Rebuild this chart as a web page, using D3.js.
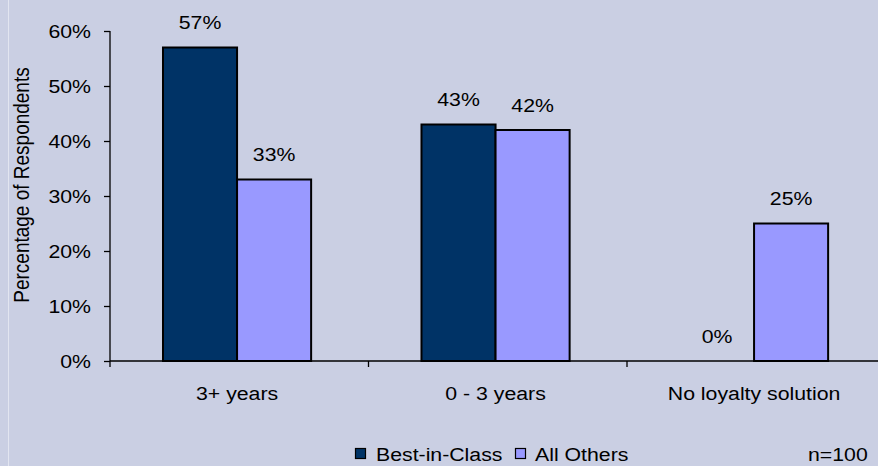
<!DOCTYPE html>
<html>
<head>
<meta charset="utf-8">
<script src="https://cdn.jsdelivr.net/npm/d3@7"></script>
<style>
  html, body { margin: 0; padding: 0; background: #CACFE3; }
  svg { display: block; }
  text { font-family: "Liberation Sans", Arial, sans-serif; fill: #000; }
</style>
</head>
<body>
<svg id="chart" width="878" height="466"></svg>
<script>
// Loyalty solution tenure, by respondent group
const categories = ["3+ years", "0 - 3 years", "No loyalty solution"];
const seriesNames = ["Best-in-Class", "All Others"];
const bestInClass = [57, 43, 0];
const allOthers = [33, 42, 25];
const yTicks = [0, 10, 20, 30, 40, 50, 60];
const yTitle = "Percentage of Respondents";
const sampleNote = "n=100";

const colors = { "Best-in-Class": "#003366", "All Others": "#9999FF" };
const FONT = 19;
const SX = 1.12; // horizontal text stretch

const svg = d3.select("#chart");
const W = 878, H = 466;

// background and thin light rule at the left edge
svg.append("rect").attr("width", W).attr("height", H).attr("fill", "#CACFE3");
svg.append("line").attr("x1", 8.5).attr("x2", 8.5).attr("y1", 0).attr("y2", H)
  .attr("stroke", "#E2E5F0").attr("stroke-width", 1);

const plot = { left: 110, right: 885.5, top: 31, bottom: 361 };

const y = d3.scaleLinear().domain([0, 60]).range([plot.bottom, plot.top]);
const x0 = d3.scaleBand().domain(categories).range([plot.left, plot.right]).padding(0);
const bw = x0.bandwidth();
const x1 = d3.scaleBand().domain(seriesNames).range([bw * 0.205, bw * 0.2055 + 148]).padding(0);

// stretched text helper
function label(g, x, yPos, str, anchor) {
  return g.append("text")
    .attr("transform", `translate(${x},${yPos}) scale(${SX},1)`)
    .attr("text-anchor", anchor || "middle")
    .attr("font-size", FONT)
    .text(str);
}

// bars
const rows = categories.map((c, i) => ({
  cat: c,
  values: [
    { key: "Best-in-Class", value: bestInClass[i] },
    { key: "All Others", value: allOthers[i] }
  ]
}));

const groups = svg.append("g").selectAll("g").data(rows).join("g")
  .attr("transform", d => `translate(${x0(d.cat)},0)`);

groups.selectAll("rect").data(d => d.values).join("rect")
  .attr("x", d => x1(d.key))
  .attr("y", d => y(d.value))
  .attr("width", x1.bandwidth())
  .attr("height", d => y(0) - y(d.value))
  .attr("fill", d => colors[d.key])
  .attr("stroke", "#000")
  .attr("stroke-width", 2);

// value labels
groups.each(function (d) {
  const g = d3.select(this);
  d.values.forEach(v => {
    label(g, x1(v.key) + x1.bandwidth() / 2, y(v.value) - 18.5, v.value + "%");
  });
});

// y axis
const yAxis = d3.axisLeft(y).tickValues(yTicks).tickSize(6).tickFormat(d => d + "%");
const yg = svg.append("g").attr("transform", `translate(${plot.left},0)`).call(yAxis);
yg.select(".domain").attr("stroke", "#000").attr("stroke-width", 1.3)
  .attr("d", `M0,${plot.top}V${plot.bottom}`);
yg.selectAll(".tick line").attr("stroke", "#000").attr("stroke-width", 1.3);
yg.selectAll(".tick text").remove();
yTicks.forEach(t => label(svg, 91, y(t) + 7, t + "%", "end"));

// x axis
const xAxis = d3.axisBottom(x0).tickSize(0).tickFormat("");
const xg = svg.append("g").attr("transform", `translate(0,${plot.bottom})`).call(xAxis);
xg.select(".domain").attr("stroke", "#000").attr("stroke-width", 1.5)
  .attr("d", `M${plot.left},0H${plot.right}`);
xg.selectAll(".tick").remove();
// category boundary ticks
const bounds = categories.map(c => x0(c)).concat([plot.right]);
xg.selectAll("line.bound").data(bounds).join("line")
  .attr("class", "bound")
  .attr("x1", d => d).attr("x2", d => d)
  .attr("y1", 0).attr("y2", 6)
  .attr("stroke", "#000").attr("stroke-width", 1.3);
categories.forEach(c => label(svg, x0(c) + x1(seriesNames[0]) + x1.bandwidth(), 400, c));

// y title
svg.append("text")
  .attr("transform", `translate(29,185) scale(${SX},1) rotate(-90)`)
  .attr("text-anchor", "middle")
  .attr("font-size", FONT)
  .text(yTitle);

// legend
const legendItems = [
  { key: "Best-in-Class", sx: 355, tx: 376 },
  { key: "All Others", sx: 515, tx: 535 }
];
legendItems.forEach(it => {
  svg.append("rect").attr("x", it.sx + 0.5).attr("y", 448.5).attr("width", 10).attr("height", 10)
    .attr("fill", colors[it.key]).attr("stroke", "#000").attr("stroke-width", 1.2);
  label(svg, it.tx, 461, it.key, "start");
});

// sample size note
label(svg, 808, 461, sampleNote, "start");
</script>
</body>
</html>
